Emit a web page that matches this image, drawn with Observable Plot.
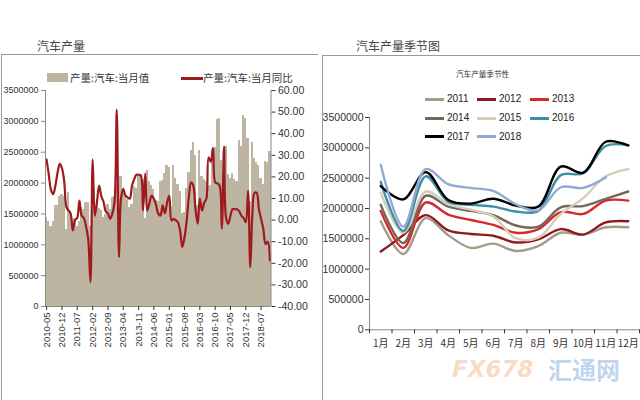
<!DOCTYPE html>
<html>
<head>
<meta charset="utf-8">
<script src="https://cdn.jsdelivr.net/npm/d3@7"></script>
<script src="https://cdn.jsdelivr.net/npm/@observablehq/plot@0.6"></script>
<style>
  body { margin: 0; background: #fff; }
  #root { position: relative; width: 640px; height: 400px; overflow: hidden; background: #fff;
          font-family: "Liberation Sans", Arial, sans-serif; color: #333; }
  .abs { position: absolute; }
  .title { font-family: "Noto Sans CJK SC", sans-serif; font-size: 12px; color: #444; white-space: nowrap; }
  .leg { font-family: "Noto Sans CJK SC", sans-serif; font-size: 10.5px; color: #333; white-space: nowrap; line-height: 12px; }
  .leg2 { font-family: "Liberation Sans Narrow", "Arial Narrow", "Liberation Sans", sans-serif; font-stretch: condensed; font-size: 10px; color: #222; line-height: 12px; }
  .wm { font-family: "DejaVu Sans", sans-serif; font-weight: bold; white-space: nowrap; line-height: 30px; }
</style>
</head>
<body>
<div id="root"></div>
<script>
// ---------- DATA ----------
// Monthly car production (units), read from the seasonal panel and bars
const prod2010 = [1450000, 1370000, 1290000, 1380000, 1630000, 1640000, 1790000, 1820000]; // 2010-05..12
const s2011 = [1790000, 1250000, 1840000, 1560000, 1350000, 1420000, 1300000, 1380000, 1600000, 1570000, 1690000, 1690000];
const s2012 = [1290000, 1560000, 1890000, 1640000, 1580000, 1550000, 1440000, 1490000, 1660000, 1570000, 1770000, 1790000];
const s2013 = [1960000, 1350000, 2100000, 1900000, 1810000, 1730000, 1600000, 1660000, 1940000, 1910000, 2130000, 2130000];
const s2014 = [2060000, 1430000, 2210000, 2030000, 1960000, 1890000, 1720000, 1700000, 2020000, 2040000, 2160000, 2280000];
const s2015 = [2260000, 1600000, 2280000, 2070000, 1980000, 1870000, 1510000, 1520000, 1910000, 2170000, 2530000, 2650000];
const s2016 = [2440000, 1630000, 2530000, 2110000, 2060000, 2030000, 1950000, 1960000, 2550000, 2580000, 3030000, 3040000];
const s2017 = [2370000, 2150000, 2600000, 2140000, 2080000, 2160000, 2050000, 2030000, 2690000, 2590000, 3100000, 3040000];
const s2018 = [2720000, 1700000, 2650000, 2400000, 2340000, 2290000, 2070000, 1970000, 2350000, 2340000, 2510000];

// Year-on-year growth (%), 2010-05 .. 2018-11
const yoy = [
  28, 21, 14, 12, 16, 22, 26, 24,
  18, 6, 4.5, 3, -4.8, 0, 1, 9, 2, 1, -3, -8.7,
  -28.7, 28, 2, 8.5, 16, 11, 8.5, 4, 3, 0.6, 3, 8.3,
  51, -17.2, 10, 14.5, 11.4, 10.5, 9.9, 16, 19, 21, 21, 20.8,
  4.4, 21.5, 4.4, 8, 11.4, 9.9, 7, 3, 2.1, 6.8, 3.2, 8,
  11.4, -0.2, 0.6, 0, -1, -5, -12.5, -8, 0, 10.9, 17.5, 16,
  5, -1.7, 9.9, 4.4, 8, 10, 29, 27, 33.5, 17.5, 17, 16,
  -4, 34, 1, -1.7, 2, 5.2, 5, 5, 4, 2, 1, -1,
  13.7, -21.8, 2, 12.6, 12.6, 5, 0.6, -4, -11, -10, -18.7
];

const firstMonth = "2010-05";
const lastMonthExclusive = "2018-12";
const xTickLabels = ["2010-05","2010-12","2011-07","2012-02","2012-09","2013-04","2013-11","2014-06",
                     "2015-01","2015-08","2016-03","2016-10","2017-05","2017-12","2018-07"];
const leftTicks = [0, 500000, 1000000, 1500000, 2000000, 2500000, 3000000, 3500000];
const rightTicks = [-40, -30, -20, -10, 0, 10, 20, 30, 40, 50, 60];

const years = ["2011", "2012", "2013", "2014", "2015", "2016", "2017", "2018"];
const yearSeries = [s2011, s2012, s2013, s2014, s2015, s2016, s2017, s2018];
const yearColors = ["#a59b89", "#8c1c1c", "#d8282b", "#72685a", "#d7ccb9", "#3b8fa6", "#000000", "#92a9d2"];
const monthLabels = ["1月","2月","3月","4月","5月","6月","7月","8月","9月","10月","11月","12月"];

const legendLeft = ["产量:汽车:当月值", "产量:汽车:当月同比"];
const titles = ["汽车产量", "汽车产量季节图", "汽车产量季节性"];
const watermark = ["FX678", "汇通网"];

// ---------- BUILD TABLES ----------
const parseM = d3.utcParse("%Y-%m");
const months = d3.utcMonth.range(parseM(firstMonth), parseM(lastMonthExclusive));
const production = prod2010.concat(...yearSeries);
const barData = months.map((d, i) => ({start: d, end: d3.utcMonth.offset(d, 1), value: production[i]}));
const yMax = 3500000;
const toLeft = v => (v + 40) / 100 * yMax;  // map right-axis % onto left-axis scale
const lineData = months.map((d, i) => ({mid: d3.utcDay.offset(d, 15), v: yoy[i]}));
const tickDates = xTickLabels.map(s => d3.utcDay.offset(parseM(s), 15));
const rightLabel = new Map(rightTicks.map(t => [toLeft(t), t.toFixed(2)]));

const seasonData = years.flatMap((y, i) => yearSeries[i].map((v, j) => ({year: y, m: j + 1, v})));

const root = document.getElementById("root");
function add(html, style, cls) {
  const el = document.createElement("div");
  el.className = "abs " + (cls || "");
  el.style.cssText = style;
  el.innerHTML = html;
  root.appendChild(el);
  return el;
}

// ---------- LEFT CHART ----------
const xStart = parseM(firstMonth), xEnd = parseM(lastMonthExclusive);
const left = Plot.plot({
  width: 320, height: 310,
  marginLeft: 45, marginRight: 49.5, marginTop: 30, marginBottom: 64,
  style: {background: "transparent", fontFamily: "'Liberation Sans', Arial, sans-serif", fontSize: "9px", color: "#333", overflow: "visible"},
  x: {type: "utc", domain: [xStart, xEnd], axis: null},
  y: {domain: [0, yMax], axis: null, label: null},
  marks: [
    Plot.rect(barData, {x1: "start", x2: "end", y1: 0, y2: "value", fill: "#beb4a2", shapeRendering: "crispEdges"}),
    Plot.line(lineData, {x: "mid", y: d => toLeft(d.v), stroke: "#9e1a1d", strokeWidth: 2.2, curve: "catmull-rom"}),
    Plot.ruleX([xStart, xEnd], {y1: 0, y2: yMax, stroke: "#8a8a8a", strokeWidth: 1}),
    Plot.ruleY([0], {stroke: "#8a8a8a", strokeWidth: 1}),
    Plot.axisY({anchor: "left", ticks: leftTicks, tickFormat: d => String(d), tickSize: 4, tickPadding: 3, label: null, stroke: "#8a8a8a"}),
    Plot.axisY({anchor: "right", ticks: rightTicks.map(toLeft), tickFormat: d => rightLabel.get(d), tickSize: 4, tickPadding: 3, label: null, fontSize: 10.5}),
    Plot.axisX({ticks: tickDates, tickFormat: d3.utcFormat("%Y-%m"), tickRotate: -90, tickSize: 4, tickPadding: 2, label: null, fontSize: 9.5})
  ]
});
left.style.position = "absolute";
left.style.left = "0px";
left.style.top = "60px";
root.appendChild(left);

// ---------- RIGHT CHART ----------
const right = Plot.plot({
  width: 320, height: 310,
  marginLeft: 49, marginRight: 1, marginTop: 57, marginBottom: 40.7,
  style: {background: "transparent", fontFamily: "'Liberation Sans Narrow', 'Arial Narrow', 'Liberation Sans', sans-serif", fontSize: "10.5px", color: "#333", overflow: "visible"},
  x: {domain: [0.5, 12.5], axis: null},
  y: {domain: [0, yMax], axis: null, label: null},
  color: {domain: years, range: yearColors},
  marks: [
    Plot.ruleX([0.5], {y1: 0, y2: yMax, stroke: "#8a8a8a"}),
    Plot.ruleY([0], {stroke: "#8a8a8a"}),
    Plot.axisY({ticks: leftTicks, tickFormat: d => String(d), tickSize: 4, tickPadding: 2, label: null}),
    Plot.axisX({ticks: d3.range(0.5, 13, 1), tickFormat: () => "", tickSize: 4, label: null}),
    Plot.axisX({ticks: d3.range(1, 13), tickFormat: d => monthLabels[d - 1], tickSize: 0, tickPadding: 10, label: null,
                fontFamily: "'Noto Sans CJK SC', sans-serif", fontSize: 10}),
    Plot.line(seasonData, {x: "m", y: "v", z: "year", stroke: "year", strokeWidth: 2.4, curve: "catmull-rom"})
  ]
});
right.style.position = "absolute";
right.style.left = "320px";
right.style.top = "60px";
root.appendChild(right);

// ---------- FRAMES & TEXT ----------
add("", "left:1px;top:54px;width:316px;height:360px;border-left:1px solid #9a9a9a;border-top:1px solid #9a9a9a;");
add("", "left:322px;top:55px;width:330px;height:360px;border-left:1px solid #9a9a9a;border-top:1px solid #9a9a9a;");

add(titles[0], "left:37px;top:37px;", "title");
add(titles[1], "left:356px;top:37px;", "title");
add(titles[2], "left:456px;top:68px;font-size:7.6px;color:#333;", "title");

// left legend
add("", "left:47px;top:73px;width:21px;height:9px;background:#beb4a2;");
add(legendLeft[0], "left:70px;top:72px;", "leg");
add("", "left:181px;top:77px;width:22px;height:3px;background:#9e1a1d;");
add(legendLeft[1], "left:203px;top:72px;", "leg");

// right legend (3 columns)
const colX = [425, 477, 530];
const rowY = [99, 118, 136.5];
years.forEach((y, i) => {
  const c = i % 3, r = Math.floor(i / 3);
  add("", `left:${colX[c]}px;top:${rowY[r] - 1.5}px;width:19px;height:3px;background:${yearColors[i]};`);
  add(y, `left:${colX[c] + 22}px;top:${rowY[r] - 6}px;`, "leg2");
});

// watermark
add(watermark[0], "left:452px;top:354px;font-size:23px;color:rgba(240,150,80,0.35);font-style:italic;", "wm");
add(watermark[1], "left:548px;top:354px;font-size:24px;color:rgba(70,130,210,0.35);font-family:'Noto Sans CJK SC',sans-serif;", "wm");
</script>
</body>
</html>
